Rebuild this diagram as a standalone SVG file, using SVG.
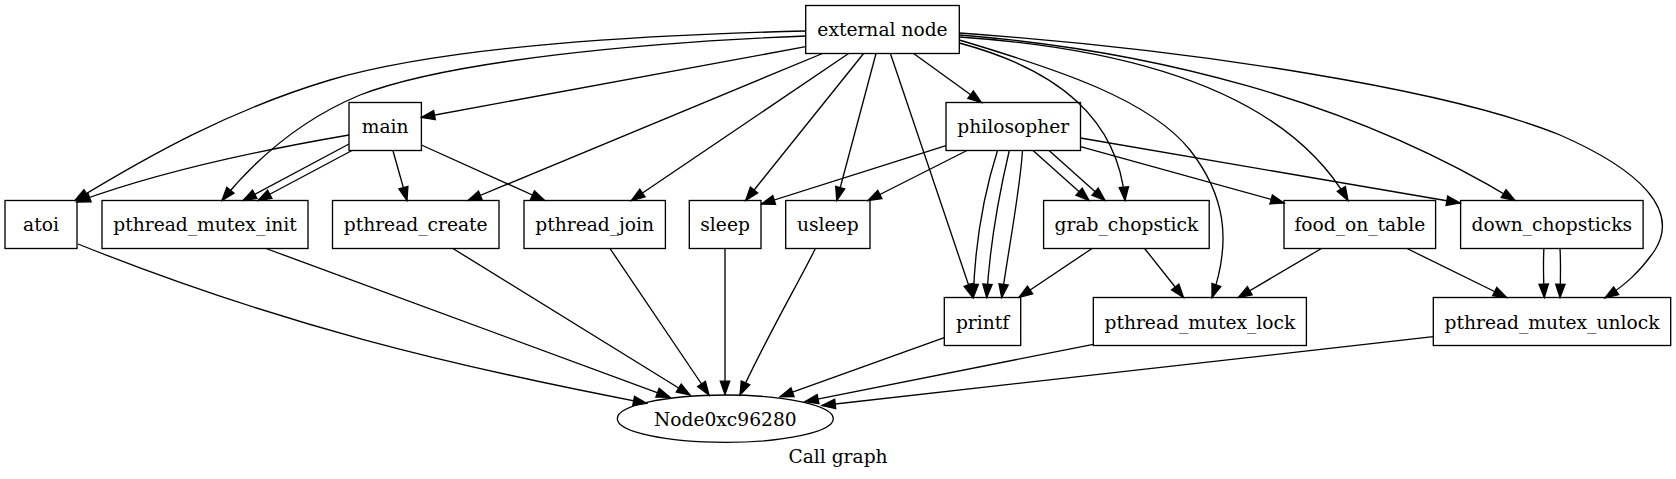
<svg xmlns="http://www.w3.org/2000/svg" width="1676" height="479" viewBox="0 0 1676 479">
<defs>
<style>
.n rect, .n ellipse { fill: none; stroke: #000; stroke-width: 1.33; }
.n text, .lbl { font-family: "DejaVu Serif", serif; font-size: 18.67px; text-anchor: middle; fill: #000; }
#edges path { fill: none; stroke: #000; stroke-width: 1.33; marker-end: url(#ah); }
</style>
<marker id="ah" markerUnits="userSpaceOnUse" viewBox="-2 -7 17 14" refX="13.3" refY="0" markerWidth="17" markerHeight="14" orient="auto">
<path d="M0,-4.67 L13.3,0 L0,4.67 z" fill="#000" stroke="#000" stroke-width="1.33"/>
</marker>
</defs>
<rect x="0" y="0" width="1676" height="479" fill="#fff"/>
<g id="edges">
<path d="M805.7,31 C650,35 450,45 330,80 C230,110 150,155 75,200.5"/>
<path d="M805.7,36 C650,42 450,60 360,95 C300,120 255,160 222,200.5"/>
<path d="M805.7,46.7 L421.4,117.5"/>
<path d="M822.5,53.5 L468,200.5"/>
<path d="M848.6,53.5 L631.4,200.5"/>
<path d="M863.6,53.5 L745.7,200.5"/>
<path d="M876,53.5 L836.8,200.5"/>
<path d="M890.4,53.5 L972.8,297.5"/>
<path d="M913.6,53.5 L981.4,102.5"/>
<path d="M959.3,43 C1060,70 1118,120 1125,200.5"/>
<path d="M959.3,40 C1060,70 1150,100 1190,150 C1225,195 1232,240 1212,297.5"/>
<path d="M959.3,37 C1150,50 1290,100 1348,200.5"/>
<path d="M959.3,35 C1150,50 1350,100 1515,200.5"/>
<path d="M959.3,33 C1200,50 1450,90 1560,135 C1640,170 1680,210 1655,250 C1640,272 1625,285 1605,298"/>
<path d="M349,135 C250,152 150,175 77,202"/>
<path d="M349,144 L243,200.5"/>
<path d="M352,150.5 L258,200.5"/>
<path d="M392.9,150.5 L407,200.5"/>
<path d="M421.4,145 L544.6,200.5"/>
<path d="M946,145.7 L761.5,204"/>
<path d="M967,150.5 L868,200.5"/>
<path d="M997.5,150.5 C985,190 975,240 973.3,297.5"/>
<path d="M1009.3,150.5 C1000,190 990,240 986.7,297.5"/>
<path d="M1022.5,150.5 C1020,190 1010,240 1001.7,297.5"/>
<path d="M1033,150.5 L1089,200.5"/>
<path d="M1049,150.5 L1105,200.5"/>
<path d="M1080.5,146.7 L1284,203"/>
<path d="M1080.5,138 L1460,203"/>
<path d="M1092,248.5 L1019,297.5"/>
<path d="M1144.6,248.5 L1183.5,297.5"/>
<path d="M1321.4,248.5 L1238.3,297.5"/>
<path d="M1407,248.5 L1506.7,297.5"/>
<path d="M1543.9,248.5 C1543,265 1543.5,280 1544.3,297.5"/>
<path d="M1560,248.5 C1561,265 1560.5,280 1560,297.5"/>
<path d="M78,244 C278,324 447,365 646.7,403.3"/>
<path d="M266,248.5 L670,397.3"/>
<path d="M452.9,248.5 L690,395"/>
<path d="M610,248.5 L709,395"/>
<path d="M725,248.5 L725,394.5"/>
<path d="M815.4,248.5 C800,280 765,340 740,395"/>
<path d="M944.3,337.7 L780,396.7"/>
<path d="M1093.3,344.3 L805,401.7"/>
<path d="M1433.3,336.7 L822,405.5"/>
</g>
<g id="external_node" class="n"><rect x="805.7" y="5.5" width="153.6" height="48"/><text x="882.5" y="36">external node</text></g>
<g id="main" class="n"><rect x="349" y="102.5" width="72.4" height="48"/><text x="385.2" y="133">main</text></g>
<g id="philosopher" class="n"><rect x="946" y="102.5" width="134.5" height="48"/><text x="1013.2" y="133">philosopher</text></g>
<g id="atoi" class="n"><rect x="5" y="200.5" width="72" height="48"/><text x="41" y="231">atoi</text></g>
<g id="pthread_mutex_init" class="n"><rect x="102" y="200.5" width="206" height="48"/><text x="205" y="231">pthread_mutex_init</text></g>
<g id="pthread_create" class="n"><rect x="332.5" y="200.5" width="166.5" height="48"/><text x="415.7" y="231">pthread_create</text></g>
<g id="pthread_join" class="n"><rect x="524" y="200.5" width="141.4" height="48"/><text x="594.7" y="231">pthread_join</text></g>
<g id="sleep" class="n"><rect x="689.3" y="200.5" width="71.7" height="48"/><text x="725.1" y="231">sleep</text></g>
<g id="usleep" class="n"><rect x="785.7" y="200.5" width="84.3" height="48"/><text x="827.8" y="231">usleep</text></g>
<g id="grab_chopstick" class="n"><rect x="1043.6" y="200.5" width="165.6" height="48"/><text x="1126.4" y="231">grab_chopstick</text></g>
<g id="food_on_table" class="n"><rect x="1284" y="200.5" width="151.6" height="48"/><text x="1359.8" y="231">food_on_table</text></g>
<g id="down_chopsticks" class="n"><rect x="1460.6" y="200.5" width="182.5" height="48"/><text x="1551.8" y="231">down_chopsticks</text></g>
<g id="printf" class="n"><rect x="944.3" y="297.5" width="76.4" height="48"/><text x="982.5" y="328.5">printf</text></g>
<g id="pthread_mutex_lock" class="n"><rect x="1093.3" y="297.5" width="213.1" height="48"/><text x="1199.9" y="328.5">pthread_mutex_lock</text></g>
<g id="pthread_mutex_unlock" class="n"><rect x="1433.3" y="297.5" width="237.4" height="48"/><text x="1552" y="328.5">pthread_mutex_unlock</text></g>
<g id="Node0xc96280" class="n"><ellipse cx="725.3" cy="418.7" rx="108" ry="23.7"/><text x="725.3" y="425.5">Node0xc96280</text></g>
<text class="lbl" x="838" y="463">Call graph</text>
</svg>
